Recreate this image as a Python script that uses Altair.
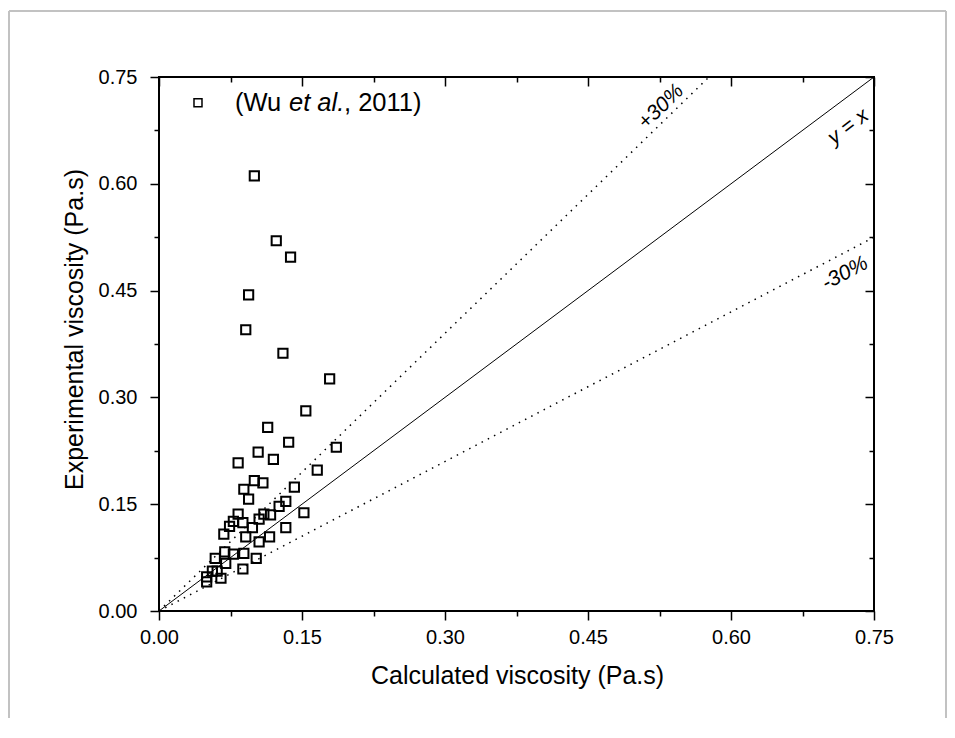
import altair as alt
import pandas as pd

# ---------------- data ----------------
calc_visc = [0.100, 0.123, 0.138, 0.094, 0.091, 0.130, 0.179, 0.154, 0.114, 0.136,
             0.186, 0.104, 0.120, 0.083, 0.166, 0.100, 0.109, 0.089, 0.142, 0.094,
             0.133, 0.126, 0.152, 0.083, 0.110, 0.117, 0.078, 0.105, 0.088, 0.074,
             0.098, 0.133, 0.068, 0.091, 0.116, 0.105, 0.069, 0.089, 0.078, 0.102,
             0.059, 0.070, 0.088, 0.056, 0.061, 0.065, 0.050, 0.050]
expt_visc = [0.611, 0.520, 0.497, 0.444, 0.395, 0.362, 0.326, 0.281, 0.258, 0.237,
             0.230, 0.223, 0.213, 0.208, 0.198, 0.183, 0.180, 0.171, 0.174, 0.157,
             0.154, 0.147, 0.138, 0.136, 0.136, 0.135, 0.126, 0.129, 0.124, 0.119,
             0.117, 0.117, 0.108, 0.104, 0.104, 0.097, 0.083, 0.081, 0.080, 0.074,
             0.074, 0.067, 0.059, 0.056, 0.056, 0.046, 0.048, 0.041]

ticks_major = [0.0, 0.15, 0.30, 0.45, 0.60, 0.75]
ticks_minor = [0.075, 0.225, 0.375, 0.525, 0.675]
ticks_all = sorted(ticks_major + ticks_minor)

line_x = [0.0, 0.75]
line_names = ["y = x", "+30%", "-30%"]
line_factor = [1.0, 1.3, 0.7]

label_x = [0.723, 0.5266, 0.7196]
label_y = [0.680, 0.708, 0.474]

legend_x = [0.0409]
legend_y = [0.7139]
legend_text_x = [0.0797]

x_title = "Calculated viscosity (Pa.s)"
y_title = "Experimental viscosity (Pa.s)"

# ---------------- tables ----------------
df_pts = pd.DataFrame({"calc": calc_visc, "expt": expt_visc})
rows = []
for name, k in zip(line_names, line_factor):
    for xv in line_x:
        rows.append({"name": name, "x": xv, "y": k * xv})
df_lines = pd.DataFrame(rows)
df_labels = pd.DataFrame({"name": line_names, "x": label_x, "y": label_y})
df_leg = pd.DataFrame({"x": legend_x, "y": legend_y, "tx": legend_text_x})
df_dummy = pd.DataFrame({"d": [0]})

FONT = "Liberation Sans"
W, H = 715, 534

sx = alt.Scale(domain=[0, 0.75], nice=False, zero=False)
sy = alt.Scale(domain=[0, 0.75], nice=False, zero=False)

TEST = "abs(datum.value*20/3 - round(datum.value*20/3)) < 0.01"
cond_size = {"condition": {"test": TEST, "value": 9}, "value": 5}
lab_expr = f"{TEST} ? format(datum.value, '.2f') : ''"

common_axis = dict(domain=False, grid=False, tickColor="black", tickWidth=1.5,
                   labelFont=FONT, labelFontSize=20, labelColor="black",
                   labelFlush=False, labelOverlap=False, labelBound=False,
                   titleFont=FONT, titleFontSize=25, titleFontWeight="normal",
                   titleColor="black")

x_axis = alt.Axis(orient="bottom", values=ticks_all, labelExpr=lab_expr,
                  tickSize=cond_size, labelPadding=7,
                  titleX=358, titleY=52, titleBaseline="top", titleAlign="center",
                  **common_axis)
y_axis = alt.Axis(orient="left", values=ticks_all, labelExpr=lab_expr,
                  tickSize=cond_size, labelPadding=13,
                  titleX=-85, titleY=252, titleAngle=270, titleBaseline="middle",
                  titleAlign="center", **common_axis)

points = alt.Chart(df_pts).mark_point(
    shape="square", filled=False, size=85, strokeWidth=2, color="black", opacity=1
).encode(
    x=alt.X("calc:Q", scale=sx, axis=x_axis, title=x_title),
    y=alt.Y("expt:Q", scale=sy, axis=y_axis, title=y_title),
)

def inner_axis(orient, vals, size):
    return alt.Axis(orient=orient, values=vals, labels=False, domain=False, grid=False,
                    tickSize=size, offset=-size, tickWidth=1.5, tickColor="black")

line_main = alt.Chart(df_lines[df_lines["name"] == "y = x"]).mark_line(
    color="black", strokeWidth=1, clip=True
).encode(
    x=alt.X("x:Q", scale=sx, axis=inner_axis("top", ticks_major, 9), title=None),
    y=alt.Y("y:Q", scale=sy, axis=inner_axis("right", ticks_major, 9), title=None),
)

line_up = alt.Chart(df_lines[df_lines["name"] == "+30%"]).mark_line(
    color="black", strokeWidth=1.5, strokeDash=[1.5, 5.5], clip=True
).encode(
    x=alt.X("x:Q", scale=sx, axis=inner_axis("top", ticks_minor, 5), title=None),
    y=alt.Y("y:Q", scale=sy, axis=inner_axis("right", ticks_minor, 5), title=None),
)

line_dn = alt.Chart(df_lines[df_lines["name"] == "-30%"]).mark_line(
    color="black", strokeWidth=1.5, strokeDash=[1.5, 5.5], clip=True
).encode(
    x=alt.X("x:Q", scale=sx, axis=None),
    y=alt.Y("y:Q", scale=sy, axis=None),
)

def line_label(name, angle):
    return alt.Chart(df_labels[df_labels["name"] == name]).mark_text(
        font=FONT, fontSize=21, fontStyle="italic", color="black",
        angle=angle, align="center", baseline="middle"
    ).encode(
        x=alt.X("x:Q", scale=sx, axis=None),
        y=alt.Y("y:Q", scale=sy, axis=None),
        text="name:N",
    )

lab1 = line_label("y = x", 323)
lab2 = line_label("+30%", 316)
lab3 = line_label("-30%", 332)

leg_sym = alt.Chart(df_leg).mark_point(
    shape="square", filled=False, size=64, strokeWidth=1.5, color="black", opacity=1
).encode(
    x=alt.X("x:Q", scale=sx, axis=None),
    y=alt.Y("y:Q", scale=sy, axis=None),
)

def leg_text(txt, dx, style):
    return alt.Chart(df_leg).mark_text(
        font=FONT, fontSize=25.5, fontStyle=style, color="black",
        align="left", baseline="middle", dx=dx
    ).encode(
        x=alt.X("tx:Q", scale=sx, axis=None),
        y=alt.Y("y:Q", scale=sy, axis=None),
        text=alt.value(txt),
    )

lt1 = leg_text("(Wu ", 0, "normal")
lt2 = leg_text("et al.", 54, "italic")
lt3 = leg_text(", 2011)", 109, "normal")

FRAME = "#c2c2c2"
frame_l = alt.Chart(df_dummy).mark_rule(color=FRAME, strokeWidth=2).encode(
    x=alt.value(-150), y=alt.value(-66), y2=alt.value(660))
frame_r = alt.Chart(df_dummy).mark_rule(color=FRAME, strokeWidth=2).encode(
    x=alt.value(787), y=alt.value(-66), y2=alt.value(660))
frame_t = alt.Chart(df_dummy).mark_rule(color=FRAME, strokeWidth=2).encode(
    x=alt.value(-150), x2=alt.value(787), y=alt.value(-66))

chart = alt.layer(
    frame_l, frame_r, frame_t,
    line_main, line_up, line_dn, points, lab1, lab2, lab3,
    leg_sym, lt1, lt2, lt3,
).resolve_scale(
    x="independent", y="independent"
).properties(
    width=W, height=H,
    autosize=alt.AutoSizeParams(type="none"),
    padding={"left": 151, "top": 69, "right": 73, "bottom": 107},
    background="white",
).configure_view(
    stroke="black", strokeWidth=2
)

chart.save("out.html", embed_options={"renderer": "svg", "actions": False})
